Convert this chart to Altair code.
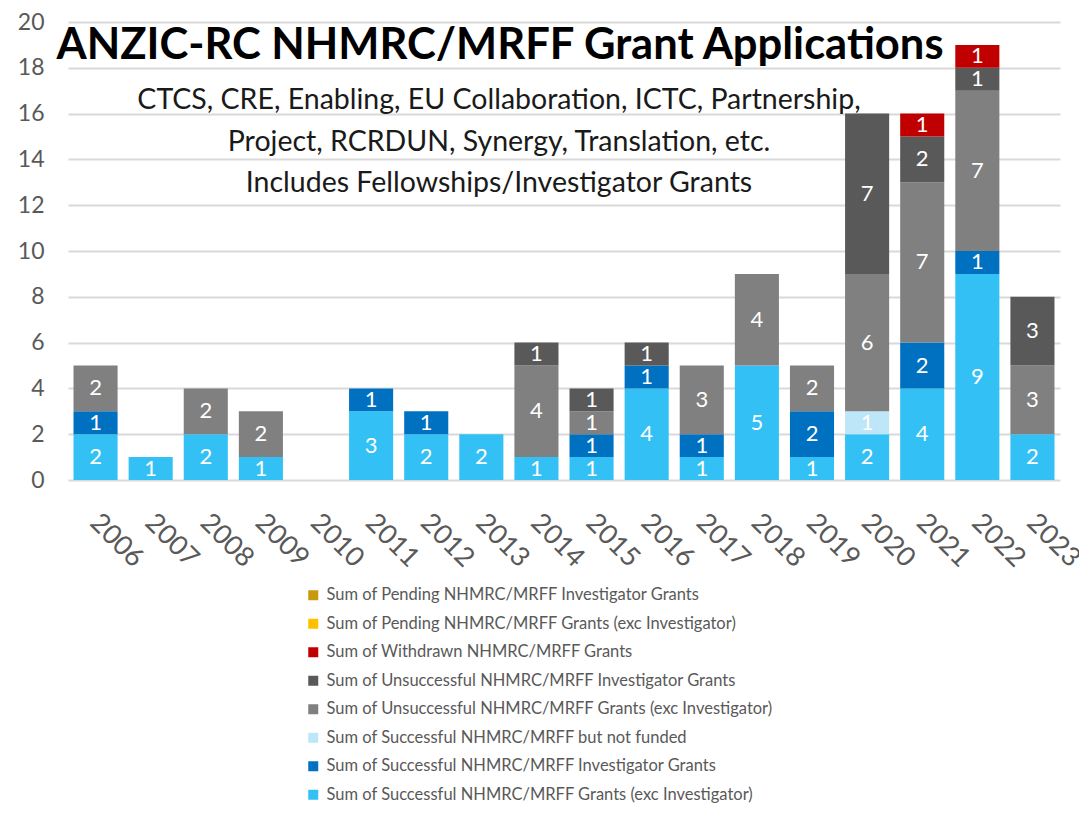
import altair as alt
import pandas as pd

years = [str(y) for y in range(2006, 2024)]

# stacking order: bottom -> top
series_names = [
    "Sum of Successful NHMRC/MRFF Grants (exc Investigator)",
    "Sum of Successful NHMRC/MRFF Investigator Grants",
    "Sum of Successful NHMRC/MRFF but not funded",
    "Sum of Unsuccessful NHMRC/MRFF Grants (exc Investigator)",
    "Sum of Unsuccessful NHMRC/MRFF Investigator Grants",
    "Sum of Withdrawn NHMRC/MRFF Grants",
    "Sum of Pending NHMRC/MRFF Grants (exc Investigator)",
    "Sum of Pending NHMRC/MRFF Investigator Grants",
]
series_colors = [
    "#33C1F5", "#0070C0", "#BDE6F8", "#808080",
    "#595959", "#C00000", "#FFC000", "#C9980C",
]

successful = [2, 1, 2, 1, 0, 3, 2, 2, 1, 1, 4, 1, 5, 1, 2, 4, 9, 2]
successful_inv = [1, 0, 0, 0, 0, 1, 1, 0, 0, 1, 1, 1, 0, 2, 0, 2, 1, 0]
successful_not_funded = [0, 0, 0, 0, 0, 0, 0, 0, 0, 0, 0, 0, 0, 0, 1, 0, 0, 0]
unsuccessful = [2, 0, 2, 2, 0, 0, 0, 0, 4, 1, 0, 3, 4, 2, 6, 7, 7, 3]
unsuccessful_inv = [0, 0, 0, 0, 0, 0, 0, 0, 1, 1, 1, 0, 0, 0, 7, 2, 1, 3]
withdrawn = [0, 0, 0, 0, 0, 0, 0, 0, 0, 0, 0, 0, 0, 0, 0, 1, 1, 0]
pending = [0] * 18
pending_inv = [0] * 18

series_values = [successful, successful_inv, successful_not_funded, unsuccessful,
                 unsuccessful_inv, withdrawn, pending, pending_inv]

title_text = "ANZIC-RC NHMRC/MRFF Grant Applications"
subtitle_lines = [
    "CTCS, CRE, Enabling, EU Collaboration, ICTC, Partnership,",
    "Project, RCRDUN, Synergy, Translation, etc.",
    "Includes Fellowships/Investigator Grants",
]

rows = []
for i, yr in enumerate(years):
    cum = 0
    for k, name in enumerate(series_names):
        v = series_values[k][i]
        if v > 0:
            rows.append(dict(year=yr, series=name, value=v, y0=cum, y1=cum + v,
                             mid=cum + v / 2, order=k))
            cum += v
df = pd.DataFrame(rows)

legend_domain = list(reversed(series_names))
legend_range = list(reversed(series_colors))

FONT = "Lato"

x_enc = alt.X(
    "year:N", sort=years,
    scale=alt.Scale(domain=years, paddingInner=0.2, paddingOuter=0.1),
    axis=alt.Axis(title=None, labelAngle=45, labelFontSize=27, labelColor="#595959",
                  labelFont=FONT, ticks=False, domain=False, labelPadding=29,
                  labelOffset=8, grid=False),
)

bars = alt.Chart(df).mark_bar().encode(
    x=x_enc,
    y=alt.Y("y0:Q", scale=alt.Scale(domain=[0, 20], nice=False),
            axis=alt.Axis(values=list(range(0, 21, 2)), title=None, labelFontSize=23,
                          labelColor="#595959", labelFont=FONT, gridColor="#d9d9d9",
                          gridWidth=2, domain=False, ticks=False, labelPadding=24)),
    y2="y1:Q",
    color=alt.Color("series:N", scale=alt.Scale(domain=legend_domain, range=legend_range),
                    legend=alt.Legend(orient="none", legendX=237, legendY=565, title=None,
                                      symbolType="square", symbolSize=100,
                                      labelFontSize=16.5, labelColor="#595959",
                                      labelFont=FONT, rowPadding=11.5, labelOffset=5,
                                      labelLimit=0, symbolStrokeWidth=0, padding=0)),
    order="order:Q",
)

labels = alt.Chart(df).mark_text(color="white", fontSize=22, font=FONT,
                                 baseline="middle").encode(
    x=alt.X("year:N", sort=years),
    y=alt.Y("mid:Q"),
    text=alt.Text("value:Q"),
)

title_df = pd.DataFrame({"t": [title_text]})
title_layer = alt.Chart(title_df).mark_text(
    fontSize=43.5, fontWeight="bold", font=FONT, color="black", align="center",
    baseline="alphabetic").encode(text="t:N", x=alt.value(432), y=alt.value(37))

sub_layers = []
sub_y = [87, 129, 170]
for line, yy in zip(subtitle_lines, sub_y):
    sub_layers.append(
        alt.Chart(pd.DataFrame({"t": [line]})).mark_text(
            fontSize=28.5, font=FONT, color="#1a1a1a", align="center",
            baseline="alphabetic").encode(text="t:N", x=alt.value(431), y=alt.value(yy))
    )

chart = alt.layer(bars, labels, title_layer, *sub_layers).properties(
    width=992, height=458,
    autosize=alt.AutoSizeParams(type="none"),
    padding={"left": 60, "top": 14, "right": 19, "bottom": 324},
).configure_view(stroke=None)

chart.save("out.html", embed_options={"renderer": "svg", "actions": False})
